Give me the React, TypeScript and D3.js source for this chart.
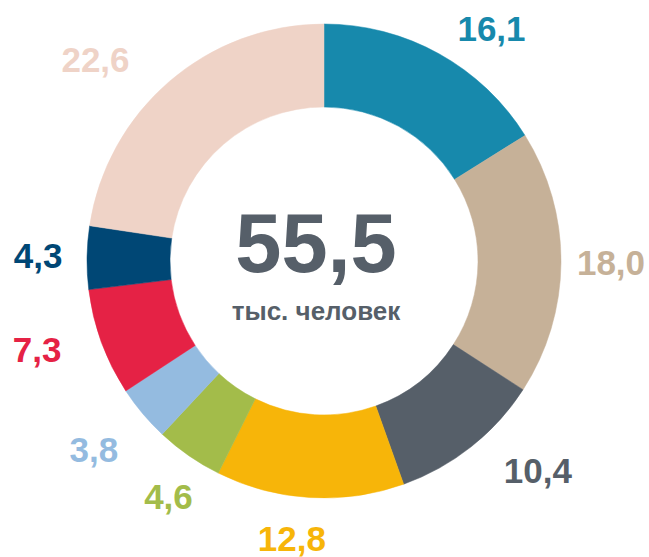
import React from "react";
import * as d3 from "d3";

const categories = ["A", "B", "C", "D", "E", "F", "G", "H", "I"];
const values = [16.1, 18.0, 10.4, 12.8, 4.6, 3.8, 7.3, 4.3, 22.6];
const labels = ["16,1", "18,0", "10,4", "12,8", "4,6", "3,8", "7,3", "4,3", "22,6"];
const colors = ["#1789AC", "#C6B198", "#565F69", "#F7B509", "#A3BC4A", "#94BBE0", "#E52245", "#004775", "#EFD3C7"];
const totalLabel = "55,5";
const unitLabel = "тыс. человек";

// layout tweaks for label placement (degrees / px)
const labelAngleShift = [6.7, -0.2, -7.3, 3.2, -1.3, 0.9, 3.1, 0.4, -7.8];
const labelRadius = [287, 287, 299, 279, 282, 297, 300, 286, 305];

export default function App() {
  const W = 649;
  const H = 557;
  const cx = 324;
  const cy = 261;
  const outerR = 237;
  const innerR = 154;

  const data = categories.map((c, i) => ({ c, v: values[i], i }));
  const pie = d3.pie<any>().value((d) => d.v).sort(null).startAngle(0).endAngle(2 * Math.PI);
  const arcs = pie(data);
  const arc = d3.arc<any>().innerRadius(innerR).outerRadius(outerR);

  return (
    <svg
      width={W}
      height={H}
      style={{ position: "absolute", left: 0, top: 0, background: "#fff" }}
      fontFamily="'Liberation Sans', Arial, sans-serif"
    >
      <g transform={`translate(${cx},${cy})`}>
        {arcs.map((a, i) => (
          <path key={i} d={arc(a) as string} fill={colors[i]} stroke={colors[i]} strokeWidth={0.5} />
        ))}
        {arcs.map((a, i) => {
          const mid = (a.startAngle + a.endAngle) / 2 + (labelAngleShift[i] * Math.PI) / 180;
          const r = labelRadius[i];
          const x = Math.sin(mid) * r;
          const y = -Math.cos(mid) * r;
          return (
            <text
              key={"l" + i}
              x={x}
              y={y + 13}
              textAnchor="middle"
              fontSize={35}
              fontWeight="bold"
              fill={colors[i]}
            >
              {labels[i]}
            </text>
          );
        })}
        <text x={-8} y={11} textAnchor="middle" fontSize={83} fontWeight="bold" fill="#565F69">
          {totalLabel}
        </text>
        <text x={-8} y={59} textAnchor="middle" fontSize={26} fontWeight="bold" fill="#565F69">
          {unitLabel}
        </text>
      </g>
    </svg>
  );
}
